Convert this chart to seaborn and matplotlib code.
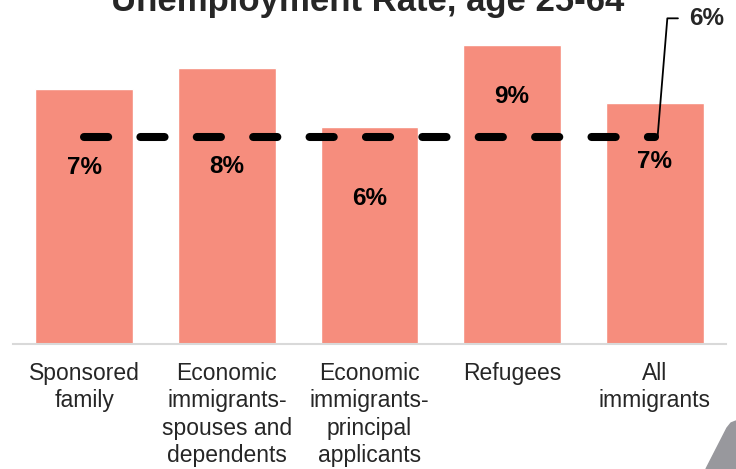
import matplotlib
matplotlib.use("Agg")
import matplotlib.pyplot as plt
import seaborn as sns
import pandas as pd
from matplotlib.patches import Polygon

# data
categories = ["Sponsored\nfamily", "Economic\nimmigrants-\nspouses and\ndependents",
              "Economic\nimmigrants-\nprincipal\napplicants", "Refugees", "All\nimmigrants"]
rates = [7.67, 8.30, 6.53, 9.0, 7.24]
rate_labels = ["7%", "8%", "6%", "9%", "7%"]
benchmark = 6.21
benchmark_label = "6%"

sns.set_theme(style="white")
plt.rcParams['font.family'] = ['Liberation Sans', 'DejaVu Sans']

df = pd.DataFrame({"group": categories, "rate": rates})

fig = plt.figure(figsize=(7.36, 4.69), dpi=100)
ax = fig.add_axes([13 / 736, (469 - 343.5) / 469, 713 / 736, 332 / 469])

sns.barplot(data=df, x="group", y="rate", color="#F68D7D", saturation=1,
            width=0.687, ax=ax)

# benchmark dashed line across bar centres
xs = list(range(len(categories)))
ax.plot(xs, [benchmark] * len(xs), color="black", lw=5.8,
        dashes=(3, 4), dash_capstyle="round")

# value labels inside bars (placed by hand in the original)
label_y = [5.29, 5.33, 4.38, 7.43, 5.47]
for i, lab in enumerate(rate_labels):
    ax.text(i, label_y[i], lab, ha="center", va="center",
            fontsize=17.5, fontweight="bold", color="black")

# callout for the benchmark
ax.annotate(benchmark_label, xy=(xs[-1] + 0.02, benchmark), xycoords="data",
            xytext=(32, 119), textcoords="offset pixels",
            ha="left", va="center", fontsize=17.5, fontweight="bold",
            annotation_clip=False,
            arrowprops=dict(arrowstyle="-", color="black", lw=1.3,
                            shrinkA=6, shrinkB=0, relpos=(0, 0.5),
                            connectionstyle="angle,angleA=0,angleB=85.3"))

ax.set_xlim(-0.5, 4.5)
ax.set_ylim(0, 10)
ax.set_xlabel("")
ax.set_ylabel("")
ax.set_yticks([])
for s in ["top", "right", "left"]:
    ax.spines[s].set_visible(False)
ax.spines["bottom"].set_color("#D9D9D9")
ax.spines["bottom"].set_linewidth(1.5)
ax.tick_params(axis="x", length=0, pad=13, labelsize=16.5)
for t in ax.get_xticklabels():
    t.set_linespacing(1.25)
    t.set_multialignment("center")

# title, cut off at the top like the slide
fig.text(0.5, 1 - 11 / 469, "Unemployment Rate, age 25-64", ha="center",
         va="baseline", fontsize=25, fontweight="bold")

# grey slide decoration in the corner
fig.patches.append(Polygon([(706 / 736, 0), (727 / 736, 41 / 469), (731 / 736, 46 / 469),
                            (736 / 736, 48 / 469), (1, 0)], closed=True,
                           transform=fig.transFigure, color="#98989D", zorder=0))

fig.savefig("out.png", dpi=100)
